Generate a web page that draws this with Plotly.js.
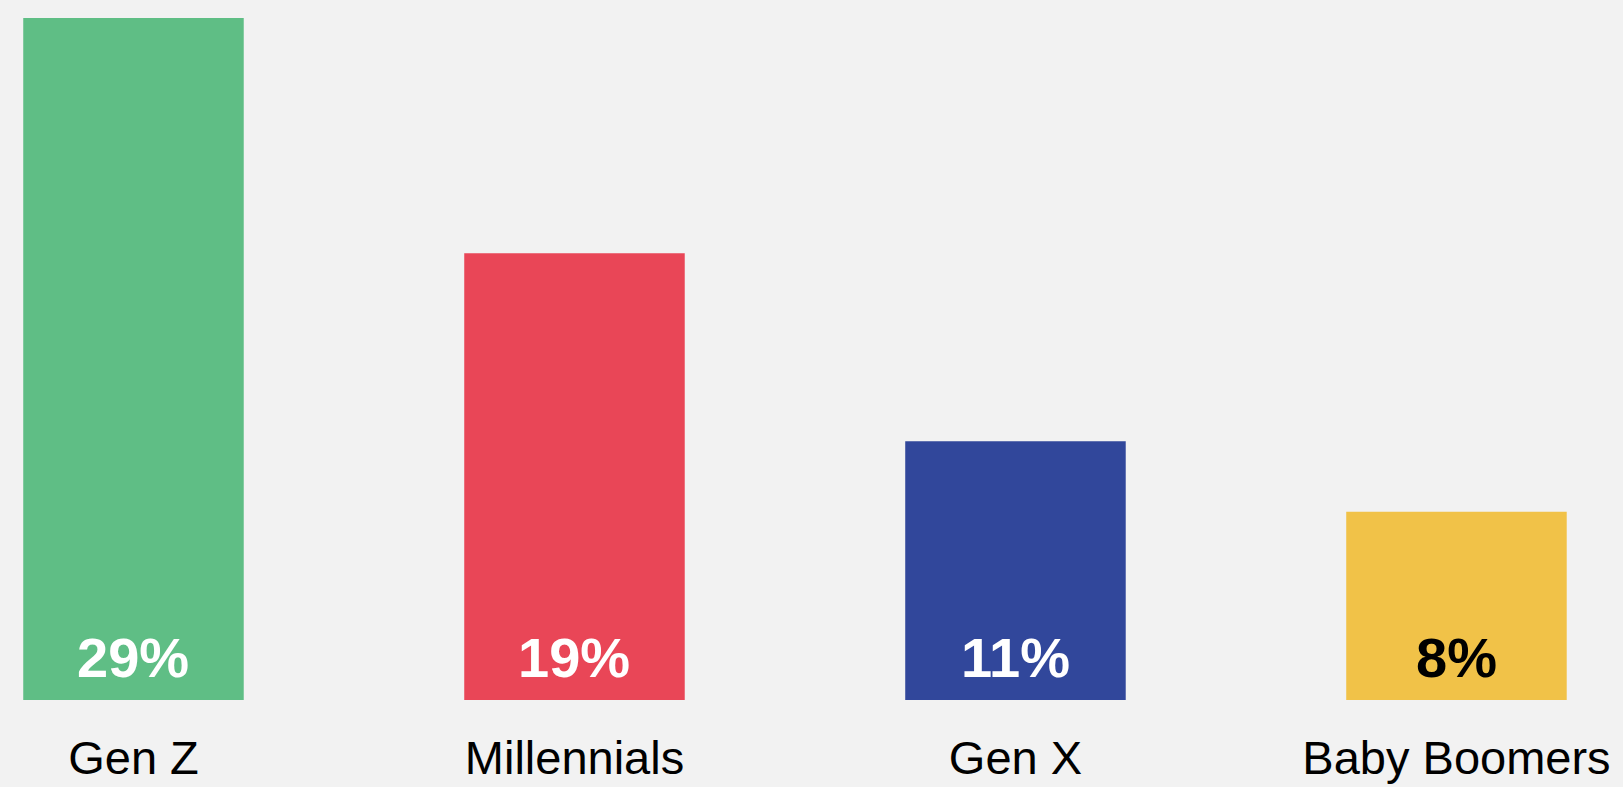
<!DOCTYPE html>
<html>
<head>
<meta charset="utf-8">
<script src="https://cdn.plot.ly/plotly-3.0.1.min.js"></script>
<style>html,body{margin:0;padding:0;background:#f2f2f2;}#chart{width:1623px;height:787px;}</style>
</head>
<body>
<div id="chart"></div>
<script>
const categories = ["Gen Z", "Millennials", "Gen X", "Baby Boomers"];
const values = [29, 19, 11, 8];
const valueLabels = ["29%", "19%", "11%", "8%"];
const barColors = ["#5fbe85", "#e94657", "#31479b", "#f1c248"];
const labelColors = ["#ffffff", "#ffffff", "#ffffff", "#000000"];

const FONT = "Helvetica, Arial, 'Liberation Sans', sans-serif";

const trace = {
  type: "bar",
  x: categories,
  y: values,
  marker: { color: barColors, line: { width: 0 } },
  width: 0.5,
  hoverinfo: "skip"
};

const annotations = categories.map((c, i) => ({
  x: c, y: 0, xref: "x", yref: "y",
  text: "<b>" + valueLabels[i] + "</b>",
  showarrow: false,
  yanchor: "bottom",
  yshift: 9,
  font: { family: FONT, size: 56, color: labelColors[i] }
}));

const layout = {
  width: 1623,
  height: 787,
  paper_bgcolor: "#f2f2f2",
  plot_bgcolor: "#f2f2f2",
  margin: { l: 0, r: 0, t: 18, b: 87, pad: 0 },
  showlegend: false,
  xaxis: {
    type: "category",
    range: [-0.3027, 3.3776],
    showgrid: false, zeroline: false, showline: false,
    ticks: "",
    ticklabelstandoff: 26,
    tickfont: { family: FONT, size: 47, color: "#000000" },
    fixedrange: true
  },
  yaxis: {
    range: [0, 29],
    showgrid: false, zeroline: false, showline: false,
    showticklabels: false, ticks: "",
    fixedrange: true
  },
  annotations: annotations
};

Plotly.newPlot("chart", [trace], layout, { displayModeBar: false, staticPlot: true });
</script>
</body>
</html>
